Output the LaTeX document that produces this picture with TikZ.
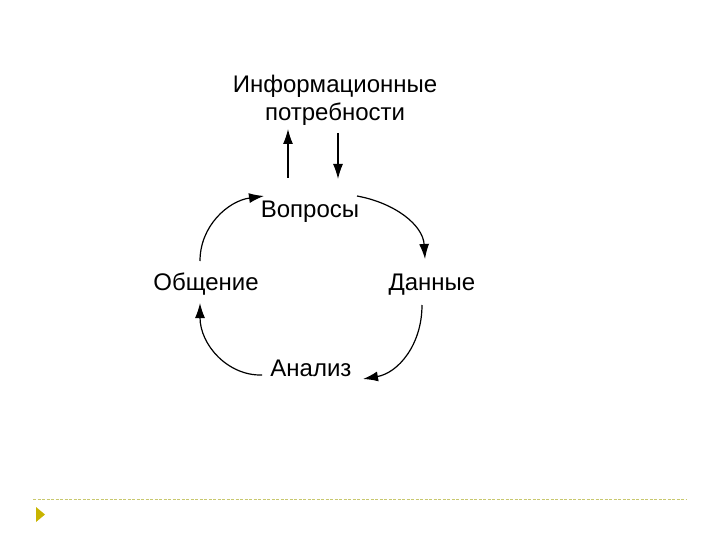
\documentclass[tikz,border=0pt]{standalone}
\usepackage{fontspec}
\setmainfont{Liberation Sans}
\usetikzlibrary{arrows.meta}
\definecolor{olivey}{RGB}{200,180,0}
\definecolor{dashy}{RGB}{200,200,110}
\begin{document}
\begin{tikzpicture}[x=1pt,y=-1pt,
  lbl/.style={font=\fontsize{24}{28}\selectfont, inner sep=0pt, align=center},
  conn/.style={line width=1.2pt, -{Latex[length=15pt,width=10pt]}}]
\useasboundingbox (0,0) rectangle (720,540);
\node[lbl] (need) at (335,100) {Информационные\\потребности};
\node[lbl, anchor=base] (q) at (310,218) {Вопросы};
\node[lbl, anchor=base] (o) at (206,290) {Общение};
\node[lbl, anchor=base] (d) at (432,290) {Данные};
\node[lbl, anchor=base] (a) at (311,376) {Анализ};
% vertical arrows
\coordinate (u1) at (288,178); \coordinate (u2) at (288,129);
\coordinate (v1) at (338,133); \coordinate (v2) at (338,179);
\draw[conn] (u1) -- (u2);
\draw[conn] (v1) -- (v2);
% cycle arcs
\coordinate (c1s) at (200,261); \coordinate (c1e) at (264,196);
\coordinate (c2s) at (357,196); \coordinate (c2e) at (425,259);
\coordinate (c3s) at (422,305); \coordinate (c3e) at (363,379);
\coordinate (c4s) at (262,375); \coordinate (c4e) at (200,303);
\draw[conn] (c1s) .. controls (200,226) and (228,201) .. (c1e);
\draw[conn] (c2s) .. controls (395,203) and (423,225) .. (c2e);
\draw[conn] (c3s) .. controls (422,345) and (398,373) .. (c3e);
\draw[conn] (c4s) .. controls (228,376) and (200,345) .. (c4e);
% footer
\draw[dashy, line width=0.8pt, dash pattern=on 3pt off 1.5pt] (33,499) -- (686,499);
\fill[olivey] (36,507) -- (45,514.5) -- (36,522) -- cycle;
\end{tikzpicture}
\end{document}
